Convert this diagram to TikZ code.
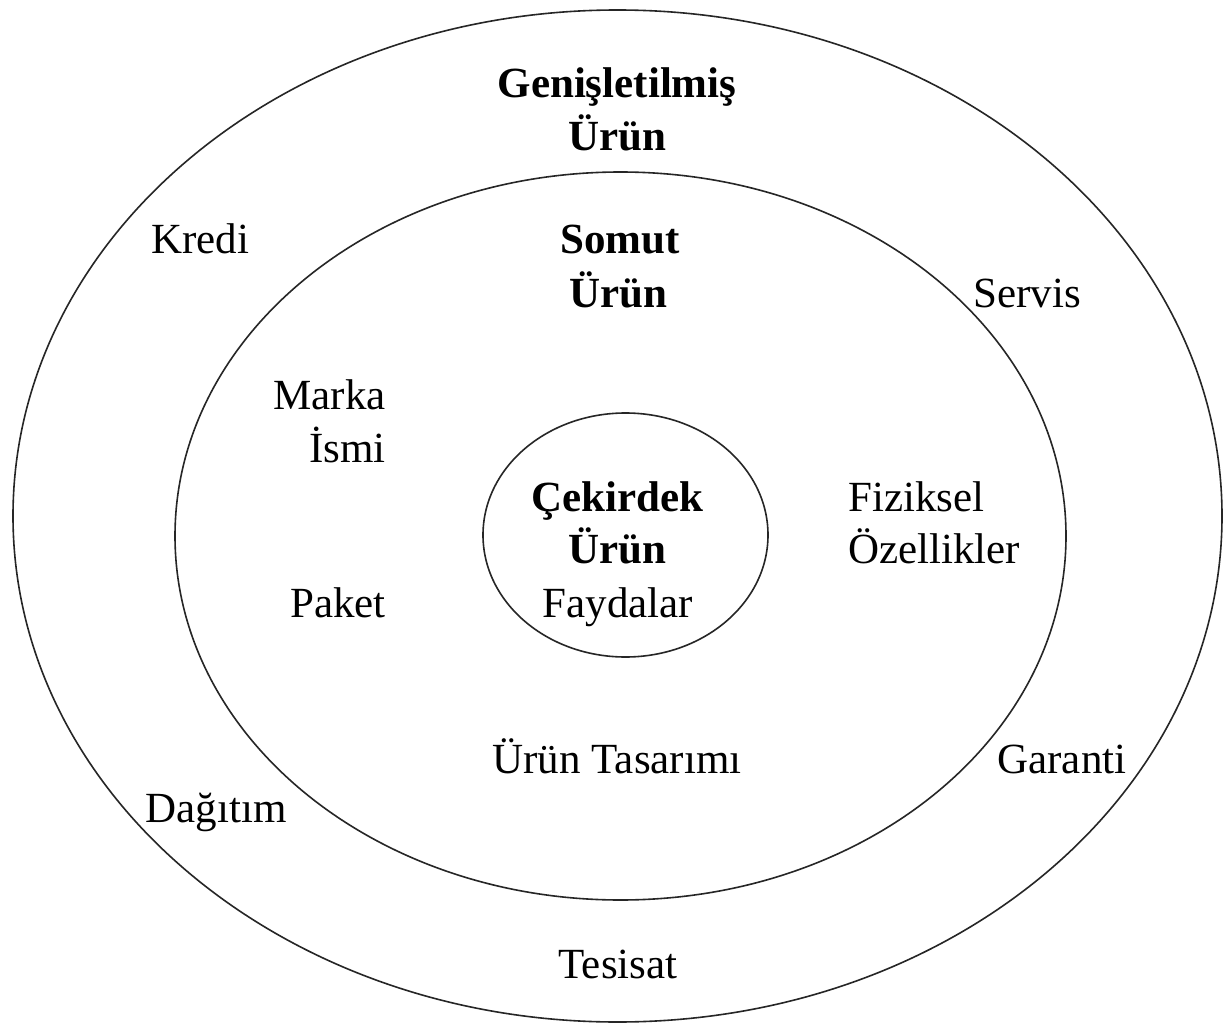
\documentclass[tikz,border=0pt]{standalone}
\usepackage{fontspec}
\setmainfont{Liberation Serif}
\usetikzlibrary{shapes.geometric}
\begin{document}
\begin{tikzpicture}[x=1pt,y=-1pt,
  ring/.style={draw=black!85,line width=1.6pt,ellipse,inner sep=0pt,fill=none},
  lbl/.style={inner sep=0pt,anchor=base,font=\fontsize{43}{52}\selectfont},
  blbl/.style={lbl,font=\fontsize{43}{52}\selectfont\bfseries},
  lblL/.style={lbl,anchor=base west},
  lblR/.style={lbl,anchor=base east}]
\useasboundingbox[fill=white] (0,0) rectangle (1224,1025);
\node[ring,minimum width=1209pt,minimum height=1012pt] (outer) at (617.5,516) {};
\node[ring,minimum width=891pt,minimum height=728pt] (middle) at (620.5,536) {};
\node[ring,minimum width=285pt,minimum height=244pt] (inner) at (625.5,535) {};
% outer ring labels
\node[blbl] (gen) at (617,97) {Genişletilmiş};
\node[blbl] (genurun) at (617,150) {Ürün};
\node[lbl] (kredi) at (200,253) {Kredi};
\node[lbl] (servis) at (1027,307) {Servis};
\node[lbl] (garanti) at (1062,773) {Garanti};
\node[lbl] (dagitim) at (216,822) {Dağıtım};
\node[lbl] (tesisat) at (618,978) {Tesisat};
% middle ring labels
\node[blbl] (somut) at (620,253) {Somut};
\node[blbl] (somuturun) at (618,307) {Ürün};
\node[lblR] (marka) at (386,409) {Marka};
\node[lblR] (ismi) at (386,462) {İsmi};
\node[lblR] (paket) at (386,617) {Paket};
\node[lblL] (fiziksel) at (848,511) {Fiziksel};
\node[lblL] (ozellik) at (848,563) {Özellikler};
\node[lbl] (tasarim) at (617,773) {Ürün Tasarımı};
% core labels
\node[blbl] (cekirdek) at (617,511) {Çekirdek};
\node[blbl] (cekurun) at (617,563) {Ürün};
\node[lbl] (fayda) at (618,617) {Faydalar};
\end{tikzpicture}
\end{document}
